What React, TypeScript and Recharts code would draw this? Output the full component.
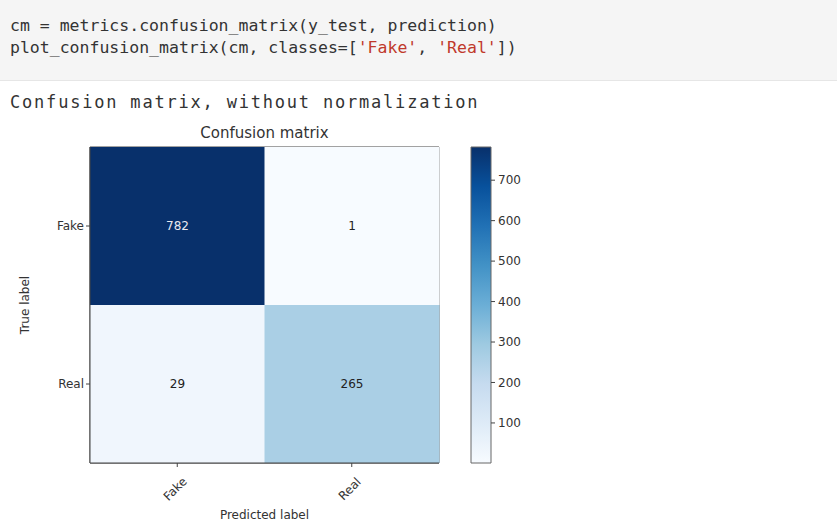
import { Bar, BarChart, Cell, LabelList, ReferenceArea, XAxis, YAxis } from 'recharts'

// Notebook cell + matplotlib-style confusion matrix, redrawn with Recharts.

const classes = ['Fake', 'Real']
// rows = true label, columns = predicted label
const fakeRow = [782, 1]
const realRow = [29, 265]
const colorbarTicks = [100, 200, 300, 400, 500, 600, 700]

const codeLines: [string, string][][] = [
  [['cm = metrics.confusion_matrix(y_test, prediction)', '#333']],
  [
    ['plot_confusion_matrix(cm, classes=[', '#333'],
    ["'Fake'", '#c0392b'],
    [', ', '#333'],
    ["'Real'", '#c0392b'],
    ['])', '#333'],
  ],
]
const outputText = 'Confusion matrix, without normalization'
const chartTitle = 'Confusion matrix'

const BLUES = [
  '#f7fbff', '#deebf7', '#c6dbef', '#9ecae1', '#6baed6',
  '#4292c6', '#2171b5', '#08519c', '#08306b',
]

const allValues = [...fakeRow, ...realRow]
const vmin = Math.min(...allValues)
const vmax = Math.max(...allValues)

function hexToRgb(h: string) {
  const n = parseInt(h.slice(1), 16)
  return [(n >> 16) & 255, (n >> 8) & 255, n & 255]
}

function blues(v: number) {
  const t = Math.max(0, Math.min(1, (v - vmin) / (vmax - vmin)))
  const pos = t * (BLUES.length - 1)
  const i = Math.min(BLUES.length - 2, Math.floor(pos))
  const f = pos - i
  const a = hexToRgb(BLUES[i])
  const b = hexToRgb(BLUES[i + 1])
  const c = a.map((x, k) => Math.round(x + (b[k] - x) * f))
  return `rgb(${c[0]},${c[1]},${c[2]})`
}

// one stacked column per predicted class: bottom = true Real, top = true Fake
const heatData = classes.map((c, i) => ({
  pred: c,
  realCell: 1,
  fakeCell: 1,
  real: realRow[i],
  fake: fakeRow[i],
}))

const colorbarData = [{ name: 'cb', range: [vmin, vmax] }]

const AXIS = '#444'
const TXT = '#333'
const FONT = 'DejaVu Sans, sans-serif'

function CellLabel(props: any) {
  const { x, y, width, height, value } = props
  const light = value > (vmax + vmin) / 2
  return (
    <text
      x={x + width / 2}
      y={y + height / 2}
      textAnchor="middle"
      dominantBaseline="central"
      fontSize={12}
      fontFamily={FONT}
      fill={light ? '#e8e8f0' : '#222'}
    >
      {value}
    </text>
  )
}

function XTick(props: any) {
  const { x, y, payload } = props
  return (
    <g transform={`translate(${x},${y})`}>
      <text
        x={0}
        y={0}
        transform="translate(-2,20) rotate(-45)"
        textAnchor="middle"
        dominantBaseline="central"
        fontSize={12}
        fontFamily={FONT}
        fill={TXT}
      >
        {payload.value}
      </text>
    </g>
  )
}

export default function App() {
  return (
    <div
      style={{
        position: 'fixed',
        left: 0,
        top: 0,
        width: 837,
        height: 523,
        background: '#fff',
        overflow: 'hidden',
        fontFamily: FONT,
      }}
    >
      {/* code cell */}
      <div
        style={{
          position: 'absolute',
          left: 0,
          top: 0,
          width: 837,
          height: 80,
          background: '#f5f5f5',
          borderBottom: '1px solid #e6e6e6',
        }}
      />
      {codeLines.map((line, li) => (
        <div
          key={li}
          style={{
            position: 'absolute',
            left: 10,
            top: 15 + li * 22,
            fontFamily: 'DejaVu Sans Mono, monospace',
            fontSize: 16.5,
            lineHeight: '22px',
            whiteSpace: 'pre',
          }}
        >
          {line.map(([t, c], k) => (
            <span key={k} style={{ color: c }}>
              {t}
            </span>
          ))}
        </div>
      ))}
      <div
        style={{
          position: 'absolute',
          left: 10,
          top: 91,
          fontFamily: 'DejaVu Sans Mono, monospace',
          fontSize: 17,
          letterSpacing: 1.8,
          lineHeight: '22px',
          whiteSpace: 'pre',
          color: TXT,
        }}
      >
        {outputText}
      </div>
      <div
        style={{
          position: 'absolute',
          left: 90,
          width: 349,
          top: 123,
          textAlign: 'center',
          fontSize: 15,
          lineHeight: '20px',
          color: TXT,
        }}
      >
        {chartTitle}
      </div>

      {/* heatmap */}
      <div style={{ position: 'absolute', left: 0, top: 0 }}>
        <BarChart
          width={460}
          height={523}
          data={heatData}
          margin={{ top: 147, right: 21, bottom: 0, left: 10 }}
          barCategoryGap={0}
          barGap={0}
        >
          <XAxis
            dataKey="pred"
            type="category"
            height={60}
            tick={<XTick />}
            tickSize={4}
            tickLine={{ stroke: AXIS }}
            axisLine={{ stroke: AXIS }}
            label={{
              value: 'Predicted label',
              position: 'insideBottom',
              offset: 4,
              fontSize: 12,
              fill: TXT,
              fontFamily: FONT,
            }}
          />
          <YAxis
            type="number"
            domain={[0, classes.length]}
            ticks={[0.5, 1.5]}
            tickFormatter={(v: number) => classes[classes.length - 1 - Math.floor(v)]}
            width={80}
            tickSize={4}
            tickLine={{ stroke: AXIS }}
            axisLine={{ stroke: AXIS }}
            tick={{ fontSize: 12, fill: TXT, fontFamily: FONT }}
            label={{
              value: 'True label',
              angle: -90,
              position: 'insideLeft',
              offset: 15,
              fontSize: 12,
              fill: TXT,
              fontFamily: FONT,
              style: { textAnchor: 'middle' },
            }}
          />
          <Bar dataKey="realCell" stackId="cm" isAnimationActive={false}>
            {heatData.map((d) => (
              <Cell key={`r-${d.pred}`} fill={blues(d.real)} />
            ))}
            <LabelList dataKey="real" content={CellLabel} />
          </Bar>
          <Bar dataKey="fakeCell" stackId="cm" isAnimationActive={false}>
            {heatData.map((d) => (
              <Cell key={`f-${d.pred}`} fill={blues(d.fake)} />
            ))}
            <LabelList dataKey="fake" content={CellLabel} />
          </Bar>
          <ReferenceArea
            y1={0}
            y2={classes.length}
            fill="none"
            stroke={AXIS}
            strokeWidth={1}
            ifOverflow="visible"
          />
        </BarChart>
      </div>

      {/* colorbar */}
      <div style={{ position: 'absolute', left: 451, top: 0 }}>
        <BarChart
          width={100}
          height={523}
          data={colorbarData}
          margin={{ top: 147, right: 0, bottom: 60, left: 20 }}
          barCategoryGap={0}
        >
          <defs>
            <linearGradient id="cbBlues" x1="0" y1="1" x2="0" y2="0">
              {BLUES.map((c, i) => (
                <stop key={c} offset={`${(i / (BLUES.length - 1)) * 100}%`} stopColor={c} />
              ))}
            </linearGradient>
          </defs>
          <XAxis dataKey="name" hide />
          <YAxis
            orientation="right"
            type="number"
            domain={[vmin, vmax]}
            ticks={colorbarTicks}
            width={60}
            tickSize={4}
            tickMargin={3}
            axisLine={false}
            tickLine={{ stroke: AXIS }}
            tick={{ fontSize: 12, fill: TXT, fontFamily: FONT, textAnchor: 'start' }}
          />
          <Bar
            dataKey="range"
            fill="url(#cbBlues)"
            stroke="#666"
            strokeWidth={1}
            isAnimationActive={false}
          />
        </BarChart>
      </div>
    </div>
  )
}
